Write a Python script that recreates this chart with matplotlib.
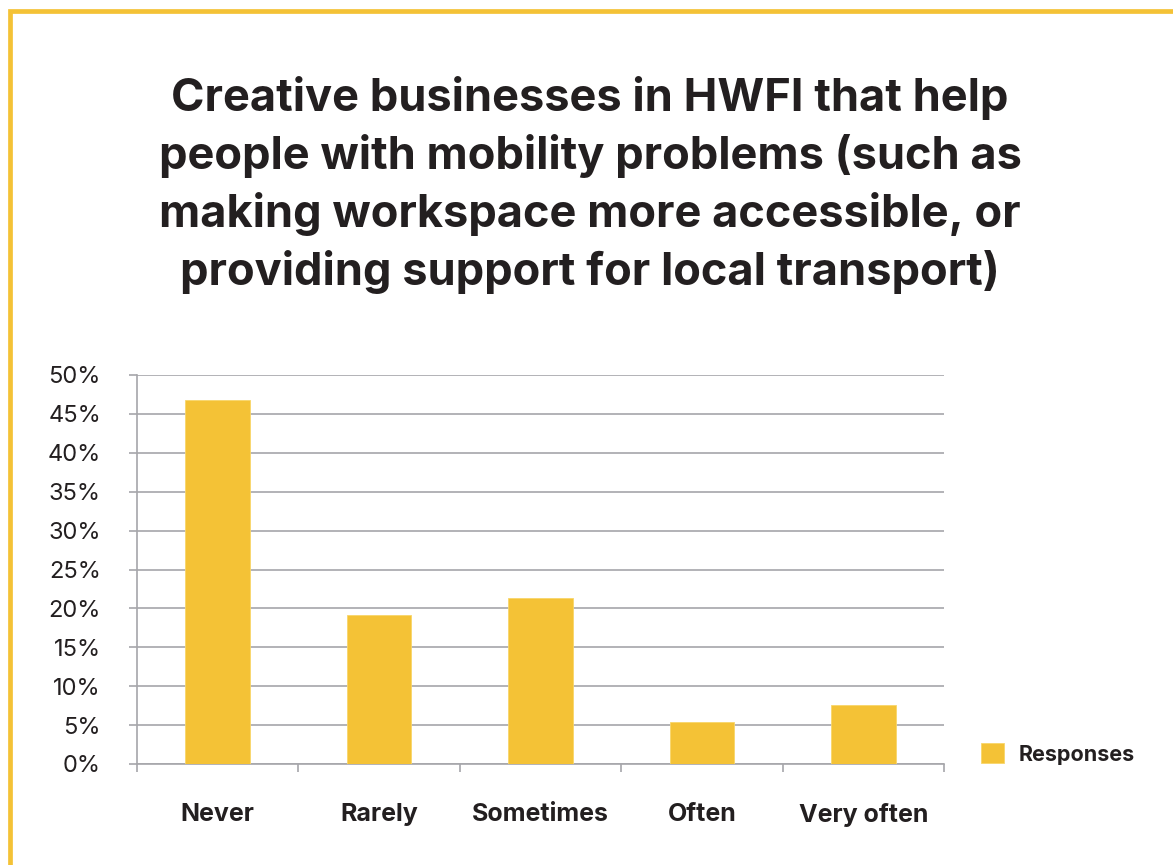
import matplotlib
matplotlib.use("Agg")
import matplotlib.pyplot as plt
from matplotlib.patches import Rectangle

plt.rcParams['font.family'] = ['Inter', 'DejaVu Sans']

# survey answers
categories = ['Never', 'Rarely', 'Sometimes', 'Often', 'Very often']
responses = [46.8, 19.15, 21.3, 5.36, 7.55]
yticks = [0, 5, 10, 15, 20, 25, 30, 35, 40, 45, 50]
title_lines = [
    'Creative businesses in HWFI that help',
    'people with mobility problems (such as',
    'making workspace more accessible, or',
    'providing support for local transport)',
]

YELLOW = '#F4C236'
GRID = '#A6A6AA'
TEXT = '#231F20'

W, H = 1173, 865
fig = plt.figure(figsize=(W / 100, H / 100), dpi=100)
fig.patch.set_facecolor('white')

# yellow frame, only top and left edges fall inside the canvas
fig.patches.append(Rectangle((9.5 / W, -0.2), 1.5, 1.2 - 10.5 / H,
                             transform=fig.transFigure, fill=False,
                             edgecolor=YELLOW, linewidth=3.4))

# title, one line at a time
for i, line in enumerate(title_lines):
    fig.text(0.503, 1 - (98 + 58 * i) / H, line, ha='center', va='center',
             fontsize=32.5, fontweight='bold', color=TEXT)

ax = fig.add_axes([137 / W, 1 - 764 / H, (944 - 137) / W, (764 - 375) / H])
x = list(range(len(categories)))
ax.bar(x, responses, width=0.4, color=YELLOW, edgecolor='#F8D66A',
       linewidth=0.6, zorder=3, label='Responses')

ax.set_xlim(-0.5, len(categories) - 0.5)
ax.set_ylim(0, 50)
ax.set_yticks(yticks)
ax.set_yticklabels([f'{v}%' for v in yticks], fontsize=17, color=TEXT)
ax.yaxis.grid(True, color=GRID, linewidth=1.2, zorder=0)
ax.set_axisbelow(True)

# category ticks sit between the bars
ax.set_xticks([i - 0.5 for i in range(len(categories) + 1)])
ax.set_xticklabels([])
ax.set_xticks(x, minor=True)
ax.set_xticklabels(categories, minor=True, fontsize=18, fontweight='bold',
                   color=TEXT)
ax.tick_params(axis='x', which='minor', length=0, pad=28)
ax.tick_params(axis='x', which='major', length=6, width=1.2, color=GRID)
ax.tick_params(axis='y', length=6, width=1.2, color=GRID, pad=20)

for side in ['top', 'right']:
    ax.spines[side].set_visible(False)
for side in ['left', 'bottom']:
    ax.spines[side].set_color(GRID)
    ax.spines[side].set_linewidth(1.2)

leg = ax.legend(loc='center left', bbox_to_anchor=(962 / W, 1 - 754 / H),
                bbox_transform=fig.transFigure, frameon=False,
                handlelength=1.05, handleheight=1.05, handletextpad=0.7,
                prop={'size': 15.5, 'weight': 'bold'})
for t in leg.get_texts():
    t.set_color(TEXT)

fig.savefig('out.png', dpi=100)
